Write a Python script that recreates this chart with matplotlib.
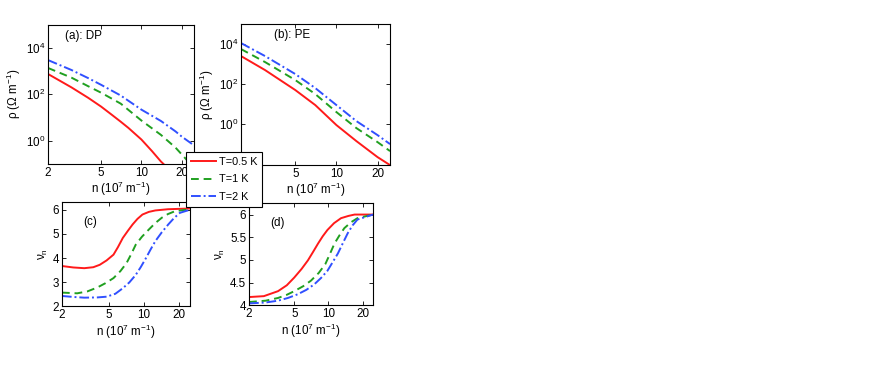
import numpy as np
import matplotlib
matplotlib.use("Agg")
import matplotlib.pyplot as plt

# density n (10^7 m^-1); resistivity given as log10(rho)
n_a_red = [2, 3, 4, 5, 6, 7, 8, 10, 12, 14, 14.6]
rho_a_red = [2.88, 2.3, 1.85, 1.47, 1.12, 0.82, 0.55, 0.05, -0.45, -0.9, -1.0]
n_a_grn = [2, 3, 4, 5, 7, 10, 14, 18, 22, 24.7]
rho_a_grn = [3.14, 2.72, 2.35, 2.07, 1.6, 0.87, 0.25, -0.3, -0.85, -1.1]
n_a_blu = [2, 3, 4, 5, 7, 10, 14, 18, 20, 24.7]
rho_a_blu = [3.48, 3.05, 2.7, 2.41, 1.95, 1.34, 0.85, 0.4, 0.18, -0.2]

n_b = [2, 3, 5, 7, 10, 14, 20, 24.7]
rho_b_red = [3.4, 2.7, 1.7, 0.95, -0.05, -0.85, -1.65, -2.05]
rho_b_grn = [3.75, 3.1, 2.2, 1.5, 0.6, -0.2, -0.9, -1.35]
rho_b_blu = [4.05, 3.4, 2.5, 1.8, 0.95, 0.15, -0.55, -1.0]

# exponent nu_n
n_c_red = [2, 2.5, 3.1, 3.7, 4.2, 4.8, 5.5, 6.0, 6.6, 7.3, 8.0, 8.8, 9.7, 11, 12.5, 16, 24.7]
nu_c_red = [3.67, 3.61, 3.58, 3.62, 3.72, 3.9, 4.14, 4.45, 4.83, 5.13, 5.39, 5.62, 5.8, 5.91, 5.97, 6.02, 6.05]
n_c_grn = [2, 2.7, 3.3, 4.0, 4.7, 5.5, 6.3, 7.1, 7.8, 8.5, 9.6, 11, 12.5, 14.2, 16, 18.4, 24.7]
nu_c_grn = [2.57, 2.54, 2.62, 2.78, 2.96, 3.17, 3.46, 3.79, 4.17, 4.55, 4.88, 5.18, 5.45, 5.67, 5.82, 5.94, 6.02]
n_c_blu = [2, 2.5, 3.1, 4.0, 4.8, 5.7, 6.6, 7.5, 8.5, 9.4, 10.4, 11.4, 12.5, 14.2, 16.1, 18, 20.2, 24.7]
nu_c_blu = [2.43, 2.39, 2.36, 2.37, 2.4, 2.52, 2.75, 2.99, 3.3, 3.63, 4.0, 4.36, 4.7, 5.07, 5.39, 5.65, 5.87, 6.0]

n_d_red = [2, 2.7, 3.6, 4.3, 5, 5.8, 6.6, 7.3, 8.1, 8.9, 9.8, 11.2, 12.9, 15, 17, 24.7]
nu_d_red = [4.18, 4.2, 4.31, 4.44, 4.61, 4.8, 4.99, 5.17, 5.36, 5.52, 5.66, 5.81, 5.92, 5.97, 6.0, 6.0]
n_d_grn = [2, 2.8, 3.6, 4.3, 5, 6.0, 7.0, 8.2, 9.4, 10.3, 11.3, 12.5, 13.8, 15.8, 18.0, 24.7]
nu_d_grn = [4.07, 4.1, 4.16, 4.23, 4.31, 4.42, 4.54, 4.71, 4.91, 5.13, 5.36, 5.54, 5.7, 5.83, 5.92, 6.0]
n_d_blu = [2, 2.8, 3.6, 4.4, 5.35, 6.4, 7.5, 8.6, 9.8, 10.9, 12.1, 13.4, 14.8, 16.3, 18.0, 24.7]
nu_d_blu = [4.04, 4.06, 4.1, 4.16, 4.24, 4.34, 4.46, 4.6, 4.76, 4.95, 5.14, 5.37, 5.59, 5.76, 5.89, 6.0]

labels = ["T=0.5 K", "T=1 K", "T=2 K"]
colors = ["#ff1a1a", "#20a020", "#3050ff"]
styles = ["-", (0, (4, 2.5)), (0, (5, 1.5, 1, 1.5))]

fs = 8.4
plt.rcParams["font.family"] = ["Liberation Sans", "DejaVu Sans"]
plt.rcParams["mathtext.default"] = "regular"
fig = plt.figure(figsize=(8.72, 3.82), dpi=100)

def style_ax(ax):
    ax.set_xscale("log")
    ax.set_xlim(2, 24.7)
    ax.set_xticks([2, 5, 10, 20])
    ax.set_xticklabels(["2", "5", "10", "20"])
    ax.minorticks_off()
    ax.tick_params(direction="in", top=True, right=True, labelsize=fs, length=3, width=0.6, pad=2)
    for s in ax.spines.values():
        s.set_linewidth(0.8)
    ax.set_xlabel("n (10$^{7}$ m$^{-1}$)", fontsize=fs, labelpad=1)

ax_a = fig.add_axes([0.055, 0.571, 0.1674, 0.364])
ax_b = fig.add_axes([0.2764, 0.568, 0.1709, 0.369])
ax_c = fig.add_axes([0.071, 0.198, 0.147, 0.272])
ax_d = fig.add_axes([0.2856, 0.201, 0.1422, 0.267])

rho_a = [(n_a_red, rho_a_red), (n_a_grn, rho_a_grn), (n_a_blu, rho_a_blu)]
for (x, y), c, ls, lab in zip(rho_a, colors, styles, labels):
    ax_a.plot(x, 10 ** np.array(y), color=c, ls=ls, lw=1.4, label=lab)
ax_a.set_yscale("log")
ax_a.set_ylim(0.1, 1e5)
ax_a.set_yticks([1, 1e2, 1e4])

for y, c, ls in zip([rho_b_red, rho_b_grn, rho_b_blu], colors, styles):
    ax_b.plot(n_b, 10 ** np.array(y), color=c, ls=ls, lw=1.4)
ax_b.set_yscale("log")
ax_b.set_ylim(0.009, 1e5)
ax_b.set_yticks([1, 1e2, 1e4])

for x, y, c, ls in zip([n_c_red, n_c_grn, n_c_blu], [nu_c_red, nu_c_grn, nu_c_blu], colors, styles):
    ax_c.plot(x, y, color=c, ls=ls, lw=1.4)
ax_c.set_ylim(2, 6.3)
ax_c.set_yticks([2, 3, 4, 5, 6])

for x, y, c, ls in zip([n_d_red, n_d_grn, n_d_blu], [nu_d_red, nu_d_grn, nu_d_blu], colors, styles):
    ax_d.plot(x, y, color=c, ls=ls, lw=1.4)
ax_d.set_ylim(4, 6.25)
ax_d.set_yticks([4, 4.5, 5, 5.5, 6])
ax_d.set_yticklabels(["4", "4.5", "5", "5.5", "6"])

for ax in [ax_a, ax_b, ax_c, ax_d]:
    style_ax(ax)

ax_a.set_ylabel("ρ (Ω m$^{-1}$)", fontsize=fs, labelpad=2)
ax_b.set_ylabel("ρ (Ω m$^{-1}$)", fontsize=fs, labelpad=2)
ax_c.set_ylabel("ν$_n$", fontsize=fs, labelpad=2)
ax_d.set_ylabel("ν$_n$", fontsize=fs, labelpad=2)

ax_a.text(0.12, 0.9, "(a): DP", transform=ax_a.transAxes, fontsize=fs)
ax_b.text(0.22, 0.9, "(b): PE", transform=ax_b.transAxes, fontsize=fs)
ax_c.text(0.17, 0.78, "(c)", transform=ax_c.transAxes, fontsize=fs)
ax_d.text(0.17, 0.78, "(d)", transform=ax_d.transAxes, fontsize=fs)

h, l = ax_a.get_legend_handles_labels()
leg = fig.legend(h, l, loc="upper left", bbox_to_anchor=(186 / 872, 1 - 152 / 382),
                 fontsize=7.8, fancybox=False, edgecolor="black", framealpha=1,
                 handlelength=2.3, borderpad=0.45, labelspacing=0.7, handletextpad=0.3,
                 borderaxespad=0)
leg.get_frame().set_linewidth(0.8)

fig.savefig("out.png", dpi=100)
